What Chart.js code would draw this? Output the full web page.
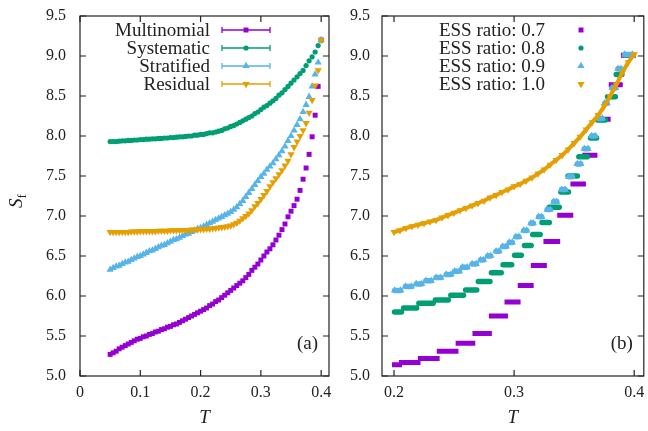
<!DOCTYPE html>
<html lang="en">
<head>
<meta charset="UTF-8">
<title>S_f versus T</title>
<script src="https://cdn.jsdelivr.net/npm/chart.js@4.4.1/dist/chart.umd.min.js"></script>
<style>
  html, body { margin: 0; padding: 0; background: #fff; }
  #wrap { position: relative; width: 648px; height: 431px; }
  canvas { position: absolute; top: 0; }
  #left { left: 0; }
  #right { left: 336px; }
</style>
</head>
<body>
<div id="wrap">
  <canvas id="left" width="336" height="431"></canvas>
  <canvas id="right" width="312" height="431"></canvas>
</div>
<script>
// ---- data: panel (a) ----
const tLeft = [0.05,0.055,0.06,0.065,0.07,0.075,0.08,0.085,0.09,0.095,0.1,0.105,0.11,0.115,0.12,0.125,0.13,0.135,0.14,0.145,
  0.15,0.155,0.16,0.165,0.17,0.175,0.18,0.185,0.19,0.195,0.2,0.205,0.21,0.215,0.22,0.225,0.23,0.235,0.24,0.245,
  0.25,0.255,0.26,0.265,0.27,0.275,0.28,0.285,0.29,0.295,0.3,0.305,0.31,0.315,0.32,0.325,0.33,0.335,0.34,0.345,
  0.35,0.355,0.36,0.365,0.37,0.375,0.38,0.385,0.39,0.395,0.4];
const multinomial = [5.27,5.29,5.31,5.34,5.36,5.38,5.40,5.42,5.44,5.46,
  5.47,5.49,5.50,5.52,5.53,5.55,5.56,5.58,5.59,5.61,
  5.62,5.64,5.65,5.67,5.69,5.71,5.73,5.75,5.77,5.79,
  5.81,5.83,5.85,5.88,5.90,5.93,5.95,5.98,6.01,6.04,
  6.07,6.10,6.13,6.16,6.19,6.23,6.27,6.32,6.36,6.40,
  6.45,6.50,6.55,6.59,6.64,6.70,6.76,6.83,6.90,6.99,
  7.06,7.13,7.21,7.32,7.46,7.60,7.77,7.99,8.26,8.62,9.20];
const systematic = [7.93,7.93,7.93,7.935,7.94,7.94,7.945,7.945,7.95,7.95,
  7.955,7.955,7.96,7.96,7.965,7.965,7.97,7.97,7.975,7.975,
  7.98,7.98,7.985,7.99,7.99,7.995,8.00,8.00,8.01,8.01,
  8.02,8.02,8.03,8.04,8.04,8.05,8.06,8.07,8.09,8.10,
  8.12,8.13,8.15,8.17,8.19,8.21,8.23,8.25,8.28,8.30,
  8.33,8.36,8.38,8.41,8.44,8.47,8.51,8.54,8.58,8.62,
  8.66,8.70,8.74,8.78,8.82,8.88,8.94,8.99,9.05,9.13,9.20];
const stratified = [6.33,6.35,6.37,6.38,6.40,6.42,6.43,6.45,6.47,6.49,
  6.50,6.52,6.54,6.56,6.57,6.59,6.61,6.63,6.64,6.66,
  6.68,6.70,6.71,6.73,6.75,6.77,6.78,6.80,6.82,6.84,
  6.85,6.87,6.89,6.91,6.93,6.95,6.97,6.99,7.01,7.03,
  7.05,7.08,7.11,7.15,7.19,7.24,7.29,7.34,7.39,7.44,
  7.49,7.53,7.58,7.62,7.66,7.71,7.76,7.81,7.87,7.94,
  8.00,8.07,8.14,8.21,8.30,8.39,8.49,8.62,8.77,8.92,9.20];
const residual = [6.80,6.80,6.80,6.80,6.80,6.80,6.80,6.805,6.805,6.805,
  6.81,6.81,6.81,6.81,6.81,6.81,6.815,6.815,6.815,6.815,
  6.82,6.82,6.82,6.82,6.825,6.825,6.825,6.83,6.83,6.83,
  6.835,6.835,6.84,6.84,6.845,6.85,6.855,6.86,6.865,6.87,
  6.88,6.895,6.915,6.94,6.97,7.00,7.03,7.07,7.12,7.16,
  7.21,7.26,7.31,7.37,7.42,7.47,7.52,7.57,7.63,7.69,
  7.77,7.86,7.93,8.00,8.07,8.16,8.29,8.45,8.63,8.82,9.20];
const leftNames = ['Multinomial', 'Systematic', 'Stratified', 'Residual'];
const leftXTicks = [0, 0.1, 0.2, 0.3, 0.4];

// ---- data: panel (b) ----
// runs of equal S_f: [T first, T last, S_f]
const ess07Runs = [[0.2004,0.2046,5.14],[0.2061,0.2200,5.17],[0.2220,0.2359,5.22],[0.2377,0.2516,5.31],
  [0.2534,0.2656,5.41],[0.2674,0.2794,5.53],[0.2811,0.2928,5.75],[0.2941,0.3033,5.925],[0.3051,0.3142,6.13],
  [0.3160,0.3252,6.38],[0.3265,0.3363,6.68],[0.3380,0.3472,7.01],[0.3490,0.3577,7.40],[0.3589,0.3673,7.76],
  [0.3691,0.3783,8.21],[0.3809,0.3884,8.64],[0.3910,0.3994,9.01]];
const ess08Runs = [[0.2004,0.2062,5.80],[0.2080,0.2189,5.85],[0.2207,0.2326,5.91],[0.2344,0.2452,5.95],
  [0.2473,0.2579,6.01],[0.2597,0.2689,6.075],[0.2702,0.2799,6.18],[0.2811,0.2893,6.29],[0.2908,0.2980,6.39],
  [0.3004,0.3060,6.51],[0.3086,0.3142,6.63],[0.3155,0.3217,6.77],[0.3232,0.3293,6.92],[0.3292,0.3376,7.11],
  [0.3389,0.3453,7.30],[0.3449,0.3527,7.50],[0.3539,0.3610,7.74],[0.3636,0.3687,7.975],[0.3696,0.3761,8.20],
  [0.3778,0.3843,8.49],[0.3850,0.3898,8.77],[0.3938,0.3994,9.01]];
const ess09Runs = [[0.2005,0.2055,6.07],[0.2095,0.2145,6.12],[0.2185,0.2230,6.15],[0.2265,0.2310,6.19],
  [0.2350,0.2390,6.23],[0.2435,0.2475,6.27],[0.2505,0.2545,6.31],[0.2570,0.2610,6.36],[0.2650,0.2685,6.40],
  [0.2720,0.2745,6.45],[0.2780,0.2805,6.50],[0.2850,0.2875,6.56],[0.2905,0.2935,6.62],[0.2960,0.2985,6.67],
  [0.3015,0.3040,6.74],[0.3080,0.3105,6.82],[0.3140,0.3160,6.91],[0.3205,0.3230,6.99],[0.3275,0.3300,7.08],
  [0.3330,0.3355,7.18],[0.3395,0.3425,7.33],[0.3455,0.3485,7.49],[0.3525,0.3555,7.65],[0.3585,0.3615,7.84],
  [0.3645,0.3675,8.00],[0.3705,0.3735,8.22],[0.3755,0.3775,8.41],[0.3815,0.3845,8.60],[0.3865,0.3890,8.84],
  [0.3920,0.3985,9.02]];
const tEss10 = [0.2,0.205,0.21,0.215,0.22,0.225,0.23,0.235,0.24,0.245,0.25,0.255,0.26,0.265,0.27,0.275,0.28,0.285,
  0.29,0.295,0.3,0.305,0.31,0.315,0.32,0.325,0.33,0.335,0.34,0.345,0.35,0.355,0.36,0.365,0.37,0.375,0.38,0.385,
  0.39,0.395,0.4];
const ess10 = [6.80,6.82,6.85,6.87,6.89,6.91,6.93,6.95,6.98,7.01,
  7.04,7.07,7.10,7.13,7.16,7.19,7.23,7.26,7.30,7.33,
  7.37,7.40,7.44,7.48,7.53,7.58,7.64,7.70,7.76,7.83,
  7.91,7.99,8.08,8.17,8.26,8.37,8.50,8.64,8.79,8.92,9.02];
const essNames = ['ESS ratio: 0.7', 'ESS ratio: 0.8', 'ESS ratio: 0.9', 'ESS ratio: 1.0'];
const rightXTicks = [0.2, 0.3, 0.4];

const yTicks = [5.0, 5.5, 6.0, 6.5, 7.0, 7.5, 8.0, 8.5, 9.0, 9.5];
const colors = ['#9400d3', '#009e73', '#56b4e9', '#e69f00'];
const markers = ['square', 'circle', 'up', 'down'];

const serif = "'Liberation Serif', 'Times New Roman', serif";
const ink = '#222';
Chart.defaults.font.family = serif;
Chart.defaults.color = ink;

function pts(xs, ys) {
  return xs.map((x, i) => ({ x: x, y: ys[i] }));
}

function runsToData(runs) {
  const out = [];
  runs.forEach(r => {
    out.push({ x: r[0], y: r[2] });
    out.push({ x: r[1], y: r[2] });
    out.push({ x: r[1], y: null });
  });
  return out;
}

function drawMarker(ctx, kind, x, y, r) {
  ctx.beginPath();
  if (kind === 'square') {
    const s = r * Math.SQRT1_2;
    ctx.rect(x - s, y - s, 2 * s, 2 * s);
  } else if (kind === 'circle') {
    ctx.arc(x, y, r, 0, Math.PI * 2);
  } else if (kind === 'up') {
    ctx.moveTo(x, y - r);
    ctx.lineTo(x + r * 0.866, y + r / 2);
    ctx.lineTo(x - r * 0.866, y + r / 2);
  } else {
    ctx.moveTo(x, y + r);
    ctx.lineTo(x + r * 0.866, y - r / 2);
    ctx.lineTo(x - r * 0.866, y - r / 2);
  }
  ctx.closePath();
  ctx.fill();
}

// frame with gnuplot-style inward ticks on all four sides
const framePlugin = {
  id: 'frame',
  afterDatasetsDraw(chart) {
    const { ctx, chartArea: a, scales } = chart;
    ctx.save();
    ctx.strokeStyle = ink;
    ctx.lineWidth = 1.2;
    ctx.strokeRect(a.left, a.top, a.right - a.left, a.bottom - a.top);
    ctx.beginPath();
    scales.x.ticks.forEach(t => {
      const px = scales.x.getPixelForValue(t.value);
      ctx.moveTo(px, a.bottom); ctx.lineTo(px, a.bottom - 6);
      ctx.moveTo(px, a.top); ctx.lineTo(px, a.top + 6);
    });
    scales.y.ticks.forEach(t => {
      const py = scales.y.getPixelForValue(t.value);
      ctx.moveTo(a.left, py); ctx.lineTo(a.left + 6, py);
      ctx.moveTo(a.right, py); ctx.lineTo(a.right - 6, py);
    });
    ctx.stroke();
    ctx.restore();
  }
};

// key, panel label and y title
const notesPlugin = {
  id: 'notes',
  afterDraw(chart, args, opts) {
    const { ctx, chartArea: a } = chart;
    ctx.save();
    ctx.fillStyle = ink;
    ctx.font = '19px ' + serif;
    ctx.textAlign = 'right';
    ctx.textBaseline = 'middle';
    opts.names.forEach((name, i) => {
      const y = opts.keyTop + i * 18;
      ctx.fillStyle = ink;
      ctx.fillText(name, opts.textRight, y + 1);
      ctx.fillStyle = colors[i];
      ctx.strokeStyle = colors[i];
      if (opts.errorBars) {
        ctx.lineWidth = 1.3;
        ctx.beginPath();
        ctx.moveTo(opts.sampleLeft, y); ctx.lineTo(opts.sampleRight, y);
        ctx.moveTo(opts.sampleLeft, y - 3); ctx.lineTo(opts.sampleLeft, y + 3);
        ctx.moveTo(opts.sampleRight, y - 3); ctx.lineTo(opts.sampleRight, y + 3);
        ctx.stroke();
      }
      drawMarker(ctx, markers[i], opts.markerX, y, markers[i] === 'square' ? 3.5 : markers[i] === 'circle' ? 2.6 : 4.2);
    });
    ctx.fillStyle = ink;
    ctx.font = '19px ' + serif;
    ctx.fillText(opts.panel, a.right - 11, a.bottom - 32);
    if (opts.yTitle) {
      ctx.translate(16, 201);
      ctx.rotate(-Math.PI / 2);
      ctx.textAlign = 'left';
      ctx.textBaseline = 'alphabetic';
      ctx.font = 'italic 19px ' + serif;
      const wS = ctx.measureText('S').width;
      ctx.font = '13px ' + serif;
      const wf = ctx.measureText('f').width;
      const x0 = -(wS + wf) / 2;
      ctx.font = 'italic 19px ' + serif;
      ctx.fillText('S', x0, 6);
      ctx.font = '13px ' + serif;
      ctx.fillText('f', x0 + wS, 10);
    }
    ctx.restore();
  }
};

function scaleOptions(xMin, xMax, xTicks, yWidth, yPad, xFmt) {
  return {
    x: {
      type: 'linear', min: xMin, max: xMax,
      afterBuildTicks: s => { s.ticks = xTicks.map(v => ({ value: v })); },
      afterFit: s => { s.height = 55; s.paddingLeft = 0; s.paddingRight = 0; },
      grid: { display: false, drawTicks: false },
      border: { display: false },
      ticks: { padding: 7, font: { size: 16 }, color: ink, maxRotation: 0, autoSkip: false, callback: xFmt },
      title: { display: true, text: 'T', color: ink, font: { size: 19, style: 'italic' }, padding: { top: 0, bottom: 2 } }
    },
    y: {
      type: 'linear', min: 5, max: 9.5,
      afterBuildTicks: s => { s.ticks = yTicks.map(v => ({ value: v })); },
      afterFit: s => { s.width = yWidth; s.paddingTop = 0; s.paddingBottom = 0; },
      grid: { display: false, drawTicks: false },
      border: { display: false },
      ticks: { padding: yPad, font: { size: 16 }, color: ink, autoSkip: false, callback: v => v.toFixed(1) }
    }
  };
}

const pointSets = [
  { pointStyle: 'rect', pointRadius: 3.5, pointRotation: 0 },
  { pointStyle: 'circle', pointRadius: 2.6, pointRotation: 0 },
  { pointStyle: 'triangle', pointRadius: 4.2, pointRotation: 0 },
  { pointStyle: 'triangle', pointRadius: 4.2, pointRotation: 180 }
];

const leftSeries = [multinomial, systematic, stratified, residual];
new Chart(document.getElementById('left'), {
  type: 'scatter',
  data: {
    datasets: leftSeries.map((ys, i) => Object.assign({
      label: leftNames[i],
      data: pts(tLeft, ys),
      backgroundColor: colors[i],
      borderColor: colors[i],
      pointBorderWidth: 0,
      pointHoverRadius: 0,
      order: 4 - i
    }, pointSets[i]))
  },
  options: {
    responsive: false,
    animation: false,
    events: [],
    layout: { padding: { left: 0, right: 7, top: 16, bottom: 0 } },
    scales: scaleOptions(0, 0.413, leftXTicks, 80, 14, v => (v === 0 ? '0' : v.toFixed(1))),
    plugins: {
      legend: { display: false },
      tooltip: { enabled: false },
      notes: { names: leftNames, keyTop: 30, textRight: 210, errorBars: true,
               sampleLeft: 222, sampleRight: 270, markerX: 246, panel: '(a)', yTitle: true }
    }
  },
  plugins: [framePlugin, notesPlugin]
});

const stepRuns = [ess07Runs, ess08Runs, ess09Runs];
const rightSets = stepRuns.map((runs, i) => ({
  label: essNames[i],
  data: runsToData(runs),
  showLine: true,
  spanGaps: false,
  borderColor: colors[i],
  backgroundColor: colors[i],
  borderWidth: i === 0 ? 5 : 5.5,
  borderCapStyle: i === 0 ? 'square' : 'round',
  pointStyle: 'triangle',
  pointRadius: i === 2 ? 4.2 : 0,
  pointBorderWidth: 0,
  pointHoverRadius: 0,
  order: 4 - i
}));
rightSets.push({
  label: essNames[3],
  data: pts(tEss10, ess10),
  showLine: true,
  borderColor: colors[3],
  backgroundColor: colors[3],
  borderWidth: 4,
  pointStyle: 'triangle',
  pointRotation: 180,
  pointRadius: 4.2,
  pointBorderWidth: 0,
  pointHoverRadius: 0,
  order: 1
});

new Chart(document.getElementById('right'), {
  type: 'scatter',
  data: { datasets: rightSets },
  options: {
    responsive: false,
    animation: false,
    events: [],
    layout: { padding: { left: 0, right: 1, top: 16, bottom: 0 } },
    scales: scaleOptions(0.19, 0.408, rightXTicks, 46, 12, v => v.toFixed(1)),
    plugins: {
      legend: { display: false },
      tooltip: { enabled: false },
      notes: { names: essNames, keyTop: 30, textRight: 209, errorBars: false,
               markerX: 245, panel: '(b)', yTitle: false }
    }
  },
  plugins: [framePlugin, notesPlugin]
});
</script>
</body>
</html>
